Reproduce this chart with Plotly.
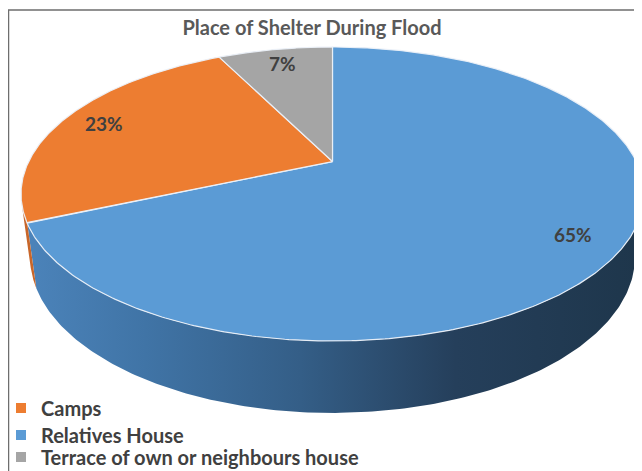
import numpy as np
import plotly.graph_objects as go

# ---------------- data ----------------
# slices in clockwise order starting at 12 o'clock
slice_names = ["Relatives House", "Camps", "Terrace of own or neighbours house"]
slice_values = [65, 23, 7]
slice_labels = ["65%", "23%", "7%"]
legend_names = ["Camps", "Relatives House", "Terrace of own or neighbours house"]
title_text = "Place of Shelter During Flood"

# ---------------- style ----------------
top_colors = {"Relatives House": "#5B9BD5", "Camps": "#ED7D31",
              "Terrace of own or neighbours house": "#A5A5A5"}
side_scales = {
    "Relatives House": [[0.0, "#4c84bb"], [0.2, "#4074a6"], [0.45, "#345e87"],
                        [0.7, "#253f5b"], [1.0, "#1e364b"]],
    "Camps": [[0.0, "#c8662a"], [1.0, "#d4712f"]],
    "Terrace of own or neighbours house": [[0.0, "#8a8a8a"], [1.0, "#8a8a8a"]],
}
legend_rows_y = [408, 435, 457]  # page-pixel centres of the legend rows
PAGE_W, PAGE_H = 642, 471
BODY = 8  # default page margin around the plot div
W, H = PAGE_W - BODY, PAGE_H - BODY
FONT = "Lato, 'Open Sans', sans-serif"


def px(xp):
    return (xp - BODY) / W


def py(yp):
    return 1 - (yp - BODY) / H


# 3D view (perspective) parameters
ELEV = np.radians(28.0)
DIST = 4.0
THICK = 0.24
ce, se = np.cos(ELEV), np.sin(ELEV)
# page-pixel targets of the top face
PIE_CX, PIE_LEFT, PIE_TOP, PIE_BOTTOM = 332.5, 21.0, 47.0, 341.0


def raw_project(theta, r=1.0, z=0.0):
    x = r * np.sin(theta)
    y = r * np.cos(theta)
    depth = DIST + y * ce - z * se
    sx = x * DIST / depth
    sy = (y * se + z * ce) * DIST / depth
    return sx, sy


t_full = np.linspace(0, 2 * np.pi, 2000)
rx, ry = raw_project(t_full)
SX = (PIE_CX - PIE_LEFT) / (-rx.min())
SY = (PIE_BOTTOM - PIE_TOP) / (ry.max() - ry.min())
CY = PIE_TOP + ry.max() * SY


def project(theta, r=1.0, z=0.0):
    sx, sy = raw_project(theta, r, z)
    return PIE_CX + SX * sx, CY - SY * sy


fig = go.Figure()

total = float(sum(slice_values))
bounds = np.concatenate([[0.0], np.cumsum(slice_values) / total * 2 * np.pi])

# visible part of the cylinder wall (front half between silhouettes)
sil = np.arccos(-1.0 / (DIST * ce))
vis0, vis1 = sil, 2 * np.pi - sil

# side walls
for i, name in enumerate(slice_names):
    a0, a1 = bounds[i], bounds[i + 1]
    s0, s1 = max(a0, vis0), min(a1, vis1)
    if s1 <= s0:
        continue
    tt = np.linspace(s0, s1, 200)
    xt, yt = project(tt, 1.0, 0.0)
    xb, yb = project(tt[::-1], 1.0, -THICK)
    xs = np.concatenate([xt, xb, xt[:1]])
    ys = np.concatenate([yt, yb, yt[:1]])
    fig.add_trace(go.Scatter(
        x=xs, y=ys, mode="lines", fill="toself",
        line=dict(width=0, color="rgba(0,0,0,0)"),
        fillgradient=dict(type="horizontal", colorscale=side_scales[name],
                          start=PIE_LEFT, stop=PAGE_W),
        hoverinfo="skip", showlegend=False))

# top face wedges
cx0, cy0 = project(0.0, 0.0, 0.0)
for i, name in enumerate(slice_names):
    a0, a1 = bounds[i], bounds[i + 1]
    tt = np.linspace(a0, a1, 400)
    xr, yr = project(tt, 1.0, 0.0)
    xs = np.concatenate([[cx0], xr, [cx0]])
    ys = np.concatenate([[cy0], yr, [cy0]])
    fig.add_trace(go.Scatter(
        x=xs, y=ys, mode="lines", fill="toself",
        fillcolor=top_colors[name],
        line=dict(width=1.2, color="rgba(235,240,248,0.95)"),
        hoverinfo="skip", showlegend=False))

# data labels
for i, name in enumerate(slice_names):
    mid = 0.5 * (bounds[i] + bounds[i + 1])
    lx, ly = project(mid, 0.85, 0.0)
    fig.add_annotation(x=lx, y=ly, text="<b>%s</b>" % slice_labels[i],
                       showarrow=False, xref="x", yref="y",
                       font=dict(family=FONT, size=19, color="#404040"))

# legend entries (one small legend per row so rows can be placed freely)
legend_layouts = {}
for k, name in enumerate(legend_names):
    lid = "legend" if k == 0 else "legend%d" % (k + 1)
    fig.add_trace(go.Scatter(
        x=[None], y=[None], mode="markers", name=name, legend=lid,
        marker=dict(symbol="square", size=10, color=top_colors[name]),
        hoverinfo="skip", showlegend=True))
    legend_layouts[lid] = dict(
        x=px(1), xanchor="left", y=py(legend_rows_y[k]), yanchor="middle",
        bgcolor="rgba(0,0,0,0)", borderwidth=0,
        font=dict(family=FONT, size=20, color="#404040", weight="bold"))

fig.update_layout(
    width=W, height=H, autosize=False,
    margin=dict(l=0, r=0, t=0, b=0, pad=0, autoexpand=False),
    paper_bgcolor="white", plot_bgcolor="white",
    xaxis=dict(range=[BODY, PAGE_W], visible=False, fixedrange=True),
    yaxis=dict(range=[PAGE_H, BODY], visible=False, fixedrange=True),
    title=dict(text="<b>%s</b>" % title_text, x=px(312), xanchor="center",
               y=py(28), yanchor="middle",
               font=dict(family=FONT, size=20, color="#595959")),
    shapes=[dict(type="rect", xref="paper", yref="paper",
                 x0=px(8.5), x1=px(720), y0=py(10), y1=py(520),
                 line=dict(color="#6e6e6e", width=1.5), fillcolor="rgba(0,0,0,0)",
                 layer="below")],
    **legend_layouts,
)

fig.write_html("out.html")
